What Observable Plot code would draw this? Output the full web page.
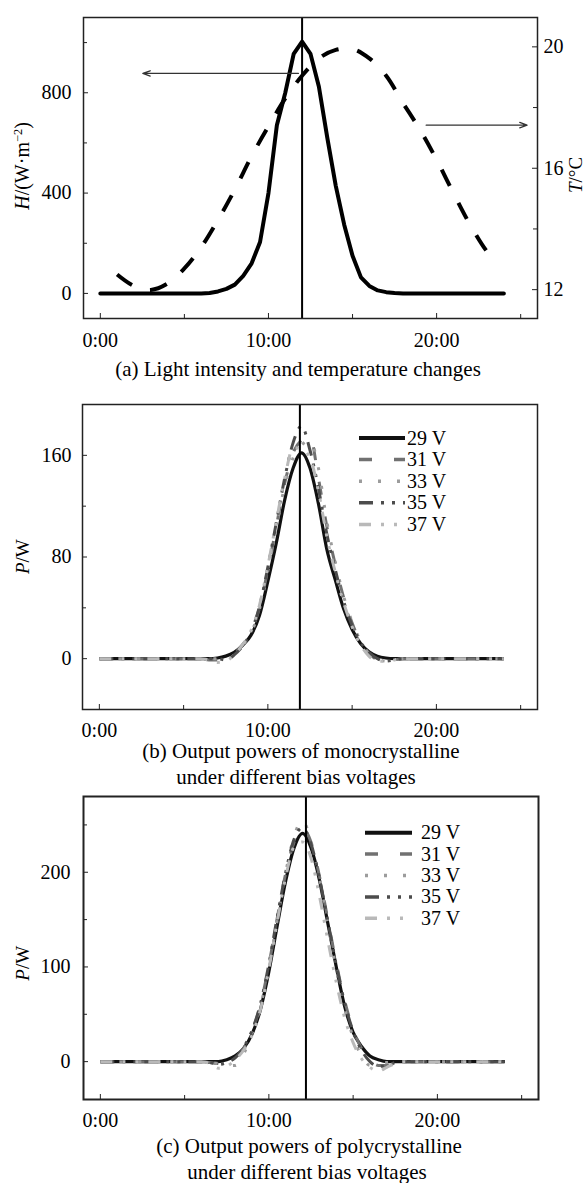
<!DOCTYPE html>
<html><head><meta charset="utf-8">
<script src="https://cdn.jsdelivr.net/npm/d3@7"></script>
<script src="https://cdn.jsdelivr.net/npm/@observablehq/plot@0.6"></script>
<style>
body{margin:0;background:#fff;}
#page{position:relative;width:587px;height:1183px;background:#fff;overflow:hidden;font-family:"Liberation Serif",serif;color:#000;}
#page svg text{font-family:"Liberation Serif",serif;}
.cap{position:absolute;width:560px;text-align:center;font-size:21px;line-height:18px;white-space:nowrap;z-index:5;font-family:"Liberation Serif",serif;}
</style></head>
<body><div id="page"></div>
<script>
// ---------- data ----------
// (a) light intensity H (W/m2) and temperature T (°C) vs hour of day
const hTime  = [0,1,2,3,4,5,6,6.5,7,7.5,8,8.5,9,9.5,10,10.5,11,11.5,12,12.5,13,13.5,14,14.5,15,15.5,16,16.5,17,17.5,18,19,20,21,22,23,24];
const hValue = [0,0,0,0,0,0,0,2,8,18,35,70,120,205,400,670,800,955,1004,955,824,620,430,275,150,64,30,12,5,2,0,0,0,0,0,0,0];
const tTime  = [1,2,3,4,5,6,7,8,9,10,11,12,13,14,15,16,17,18,19,20,21,22,23,23.6];
const tValue = [12.5,12.12,11.99,12.2,12.7,13.4,14.3,15.3,16.4,17.38,18.3,19.05,19.62,19.9,19.93,19.62,19.05,18.15,17.28,16.28,15.18,14.13,13.25,12.88];

// shared hour grid for (b) and (c)
const gridTime = [0,1,2,3,4,5,6,6.5,7,7.5,8,8.5,9,9.5,10,10.5,11,11.5,12,12.5,13,13.5,14,14.5,15,15.5,16,16.5,17,17.5,18,19,20,21,22,23,24];
const seriesNames = ["29 V","31 V","33 V","35 V","37 V"];

// (b) monocrystalline output power P (W)
const mono29 = [0,0,0,0,0,0,0, 0,0.5,2,5,10.5,18.5,34,61,91,125,150,162,150,122,86,62,39,23,12,5.5,2,0.5,0,0, 0,0,0,0,0,0];
const mono31 = [0,0,0,0,0,0,0, -1,-1,0,4,11,21,40,70,104,138,162,172,175,142,104,74,48,28,13,4,-1,-3,-1,0, 0,0,0,0,0,0];
const mono33 = [0,0,0,0,0,0,0, 0,0,-1,3,10,20,39,69,103,136,158,168,172,150,108,76,49,29,14,4,0,-2,-1,0, 0,0,0,0,0,0];
const mono35 = [0,0,0,0,0,0,0, 0,0,-1,3,10,21,41,72,107,142,170,183,164,134,98,70,45,26,13,5,0,-2,-1,0, 0,0,0,0,0,0];
const mono37 = [0,0,0,0,0,0,0, -1,-3,-2,3,11,22,42,73,108,142,166,165,158,132,96,68,44,25,11,2,-2,-2,-1,0, 0,0,0,0,0,0];

// (c) polycrystalline output power P (W)
const poly29 = [0,0,0,0,0,0,0, 0,0,2,6,14,29,55,95,144,191,226,241,226,192,146,100,58,31,16,6,2,0,0,0, 0,0,0,0,0,0];
const poly31 = [0,0,0,0,0,0,0, -1,-2,-1,4,14,32,60,102,152,199,232,246,232,196,150,104,64,34,14,2,-4,-4,-1,0, 0,0,0,0,0,0];
const poly33 = [0,0,0,0,0,0,0, -1,-2,-4,-4,8,30,58,100,150,200,238,255,232,194,146,98,56,26,6,-4,-2,-1,0,0, 0,0,0,0,0,0];
const poly35 = [0,0,0,0,0,0,0, -1,-3,-1,4,15,33,61,103,153,200,235,247,230,194,148,102,62,32,12,0,-5,-4,-1,0, 0,0,0,0,0,0];
const poly37 = [0,0,0,0,0,0,0, -2,-7,-5,2,12,28,55,98,148,195,227,232,215,175,128,84,46,20,3,-6,-10,-6,-2,0, 0,0,0,0,0,0];

// ticks
const xMajor = [0,10,20], xMinor = [5,15,25];
const hMajor = [0,400,800], hMinor = [200,600,1000];
const tMajor = [12,16,20], tMinor = [14,18];
const monoMajor = [0,80,160], monoMinor = [40,120];
const polyMajor = [0,100,200], polyMinor = [50,150,250];
// annotation arrows in panel (a) (hour, H) and (hour, T)
const arrowLeft  = {x1: 11.78, y1: 877, x2: 2.53, y2: 877};
const arrowRightT = {x1: 19.38, t: 17.42, x2: 25.38};
const noonLines = {a: 12, b: 11.9, c: 12.2};

// ---------- styles ----------
const FONT = "Liberation Serif, serif";
const TICK_FS = 20;
const seriesStyle = {
  "29 V": {stroke:"#111111", width:3.2, dash:null},
  "31 V": {stroke:"#717171", width:3, dash:"13 22"},
  "33 V": {stroke:"#9c9c9c", width:3, dash:"3 16"},
  "35 V": {stroke:"#4c4c4c", width:3, dash:"14 8 3 8 3 8"},
  "37 V": {stroke:"#b9b9b9", width:3, dash:"12 10 3 10 3 10"}
};
const fmtHour = d => `${d}:00`;
const page = document.getElementById("page");
function place(el, top){ el.style.position="absolute"; el.style.left="0px"; el.style.top=top+"px"; page.appendChild(el); }
const captions = [];
function caption(text, cx, cy){ captions.push({text, cx, cy}); }
function addText(svg, x, y, rotate, parts, size=19, anchor="middle"){
  const t = d3.select(svg).append("text").attr("transform",`translate(${x},${y}) rotate(${rotate})`)
    .attr("text-anchor",anchor).attr("font-family",FONT).attr("font-size",size).attr("fill","#000");
  parts.forEach(p=>{ const s=t.append("tspan").text(p.text); if(p.italic) s.attr("font-style","italic"); if(p.sup) s.attr("baseline-shift","super").attr("font-size",size*0.62); });
}
function tickMarks(FW, FH, xs, xsMinor, ys, ysMinor){
  return [
    Plot.tickX(xs, {x:d=>d, insetTop:FH-5, stroke:"#222", strokeWidth:1}),
    Plot.tickX(xsMinor, {x:d=>d, insetTop:FH-4, stroke:"#222", strokeWidth:1}),
    Plot.tickY(ys, {y:d=>d, insetRight:FW-5, stroke:"#222", strokeWidth:1}),
    Plot.tickY(ysMinor, {y:d=>d, insetRight:FW-4, stroke:"#222", strokeWidth:1})
  ];
}
const toRows = (t, v) => t.map((x,i)=>({t:x, v:v[i]}));
const baseStyle = {fontFamily:FONT, fontSize:TICK_FS+"px", color:"#000", background:"transparent", overflow:"visible"};

// ---------- panel (a) ----------
{
  const W=587,H=355,MT=17,MB=37,ML=83,MR=50, FW=W-ML-MR, FH=H-MT-MB;
  const tToH = d3.scaleLinear().domain([12,20]).range([15,983]);
  const hData = toRows(hTime, hValue), tData = toRows(tTime, tValue);
  const svg = Plot.plot({
    width:W, height:H, marginTop:MT, marginBottom:MB, marginLeft:ML, marginRight:MR,
    style:baseStyle,
    x:{domain:[-1,26], label:null}, y:{domain:[-100,1100], label:null},
    marks:[
      ...tickMarks(FW, FH, xMajor, xMinor, hMajor, hMinor),
      Plot.tickY(tMajor.map(tToH), {y:d=>d, insetLeft:FW-5, stroke:"#222", strokeWidth:1}),
      Plot.tickY(tMinor.map(tToH), {y:d=>d, insetLeft:FW-4, stroke:"#222", strokeWidth:1}),
      Plot.axisX(xMajor, {tickSize:0, tickPadding:14.5, tickFormat:fmtHour, label:null, fontSize:TICK_FS}),
      Plot.axisY(hMajor, {tickSize:0, tickPadding:12, label:null, fontSize:TICK_FS}),
      Plot.axisY(tMajor.map(tToH), {anchor:"right", tickSize:0, tickPadding:6, label:null, fontSize:TICK_FS, tickFormat:d=>String(Math.round(tToH.invert(d)))}),
      Plot.ruleX([noonLines.a], {stroke:"#000", strokeWidth:2}),
      Plot.line(tData, {x:"t", y:d=>tToH(d.v), stroke:"#000", strokeWidth:4, strokeDasharray:"18 19", strokeLinecap:"butt", curve:"catmull-rom"}),
      Plot.line(hData, {x:"t", y:"v", stroke:"#000", strokeWidth:4}),
      Plot.arrow([arrowLeft], {x1:"x1", y1:"y1", x2:"x2", y2:"y2", stroke:"#333", strokeWidth:1.3, headLength:9, headAngle:40}),
      Plot.arrow([arrowRightT], {x1:"x1", y1:d=>tToH(d.t), x2:"x2", y2:d=>tToH(d.t), stroke:"#333", strokeWidth:1.3, headLength:9, headAngle:40}),
      Plot.frame({stroke:"#222", strokeWidth:1.5})
    ]
  });
  addText(svg, 28.8, 166, -90, [{text:"H",italic:true},{text:"/(W·m"},{text:"−2",sup:true},{text:")"}], 20);
  addText(svg, 582, 175, -90, [{text:"T",italic:true},{text:"/°C"}], 19);
  place(svg, 0);
  caption("(a) Light intensity and temperature changes", 298, 370);
}

// ---------- panels (b) and (c) ----------
function powerPanel({top, H, MT, MB, ML, MR, yDomain, yMajor, yMinor, values, noon, xPad, yPad, frameW, labelY, legend}){
  const W=587, FW=W-ML-MR, FH=H-MT-MB;
  const lines = seriesNames.map((name,i)=>{
    const s = seriesStyle[name];
    return Plot.line(toRows(gridTime, values[i]), {x:"t", y:"v", stroke:s.stroke, strokeWidth:s.width,
      strokeDasharray:s.dash || undefined, strokeLinecap:"butt", strokeLinejoin:"round", curve:"monotone-x"});
  });
  const svg = Plot.plot({
    width:W, height:H, marginTop:MT, marginBottom:MB, marginLeft:ML, marginRight:MR,
    style:baseStyle,
    x:{domain:[-1,26], label:null}, y:{domain:yDomain, label:null},
    marks:[
      ...tickMarks(FW, FH, xMajor, xMinor, yMajor, yMinor),
      Plot.axisX(xMajor, {tickSize:0, tickPadding:xPad, tickFormat:fmtHour, label:null, fontSize:TICK_FS}),
      Plot.axisY(yMajor, {tickSize:0, tickPadding:yPad, label:null, fontSize:TICK_FS}),
      ...lines,
      Plot.ruleX([noon], {stroke:"#000", strokeWidth:2}),
      Plot.frame({stroke:"#222", strokeWidth:frameW})
    ]
  });
  addText(svg, 28.8, labelY, -90, [{text:"P",italic:true},{text:"/W"}], 19);
  const g = d3.select(svg).append("g");
  seriesNames.forEach((name,i)=>{
    const s = seriesStyle[name], y = legend.y0 + i*legend.dy;
    const ln = g.append("line").attr("x1",legend.x1).attr("x2",legend.x2).attr("y1",y).attr("y2",y)
      .attr("stroke",s.stroke).attr("stroke-width", i===0 ? 4 : 3.5);
    if (s.dash) ln.attr("stroke-dasharray", s.dash);
    g.append("text").attr("x",legend.tx).attr("y",y+6.5).attr("text-anchor","start")
      .attr("font-family",FONT).attr("font-size",20).attr("fill","#000").text(name);
  });
  place(svg, top);
}

powerPanel({top:390, H:355, MT:14, MB:36, ML:82, MR:50, yDomain:[-40,200], yMajor:monoMajor, yMinor:monoMinor,
  values:[mono29,mono31,mono33,mono35,mono37], noon:noonLines.b, xPad:13.5, yPad:11, frameW:1.5, labelY:166.7,
  legend:{x1:359, x2:405, tx:407, y0:48, dy:21.6}});
caption("(b) Output powers of monocrystalline", 301, 752.5);
caption("under different bias voltages", 296, 778.5);

powerPanel({top:785, H:350, MT:11, MB:36, ML:83, MR:49, yDomain:[-40,280], yMajor:polyMajor, yMinor:polyMinor,
  values:[poly29,poly31,poly33,poly35,poly37], noon:noonLines.c, xPad:13.5, yPad:13, frameW:2, labelY:178.3,
  legend:{x1:365, x2:412, tx:421, y0:47.7, dy:21.4}});
caption("(c) Output powers of polycrystalline", 309, 1146.7);
caption("under different bias voltages", 307, 1173.3);

// captions last so they sit above the panels
captions.forEach(({text, cx, cy})=>{
  const d=document.createElement("div"); d.className="cap"; d.textContent=text;
  d.style.left=(cx-280)+"px"; d.style.top=(cy-10.2)+"px"; page.appendChild(d);
});
</script>
</body></html>
